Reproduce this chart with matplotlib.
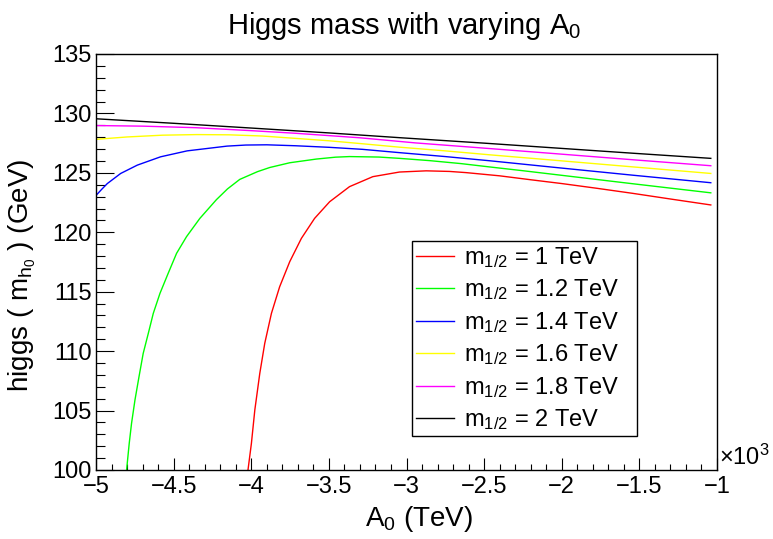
import numpy as np
import matplotlib
matplotlib.use("Agg")
import matplotlib.pyplot as plt
from matplotlib.ticker import MultipleLocator, FuncFormatter

plt.rcParams['font.family'] = ['Liberation Sans', 'DejaVu Sans']
plt.rcParams['mathtext.fontset'] = 'custom'
plt.rcParams['mathtext.rm'] = 'Liberation Sans'
plt.rcParams['mathtext.it'] = 'Liberation Sans'
plt.rcParams['mathtext.bf'] = 'Liberation Sans:bold'

# A0 scans (GeV) and the resulting light higgs mass (GeV), one per m_1/2
a0_m1000 = [-4021, -3999, -3977, -3945, -3913, -3870, -3817, -3752, -3677, -3592,
            -3495, -3367, -3217, -3045, -2873, -2723, -2616, -2400, -2200, -2000,
            -1773, -1545, -1300, -1040]
mh_m1000 = [100.0, 102.24, 105.05, 108.13, 110.66, 113.18, 115.42, 117.53, 119.49, 121.17,
            122.57, 123.84, 124.68, 125.07, 125.17, 125.12, 125.02, 124.75, 124.42, 124.1,
            123.7, 123.28, 122.8, 122.3]

a0_m1200 = [-4803, -4786, -4771, -4749, -4723, -4696, -4663, -4631, -4588, -4535,
            -4481, -4417, -4331, -4224, -4153, -4074, -3960, -3881, -3752, -3581,
            -3457, -3367, -3178, -3045, -2852, -2650, -2466, -2250, -2037, -1540,
            -1040]
mh_m1200 = [100.0, 102.24, 103.93, 105.89, 107.85, 109.81, 111.5, 113.18, 114.86, 116.55,
            118.23, 119.63, 121.17, 122.75, 123.65, 124.45, 125.1, 125.45, 125.85, 126.16,
            126.32, 126.37, 126.33, 126.22, 126.03, 125.78, 125.5, 125.18, 124.85, 124.08,
            123.32]

a0_m1400 = [-5000, -4963, -4927, -4841, -4734, -4584, -4413, -4156, -4035, -3900,
            -3714, -3500, -3285, -3045, -2750, -2466, -2037, -1540, -1040]
mh_m1400 = [123.1, 123.62, 124.1, 124.95, 125.65, 126.35, 126.85, 127.25, 127.34, 127.36,
            127.28, 127.15, 126.98, 126.7, 126.37, 126.02, 125.45, 124.8, 124.17]

a0_m1600 = [-5000, -4800, -4571, -4350, -4143, -3930, -3714, -3500, -3285, -3045,
            -2750, -2466, -2037, -1540, -1040]
mh_m1600 = [127.82, 128.02, 128.17, 128.22, 128.2, 128.1, 127.9, 127.7, 127.45, 127.16,
            126.85, 126.52, 126.05, 125.5, 124.95]

a0_m1800 = [-5000, -4700, -4357, -4000, -3714, -3300, -2942, -2500, -2037, -1540, -1040]
mh_m1800 = [128.98, 128.93, 128.8, 128.55, 128.33, 127.95, 127.52, 127.08, 126.61, 126.1,
            125.6]

a0_m2000 = [-5000, -4500, -4000, -3500, -3045, -2500, -2037, -1540, -1040]
mh_m2000 = [129.55, 129.17, 128.77, 128.36, 127.96, 127.5, 127.09, 126.65, 126.22]

scans = [
    (a0_m1000, mh_m1000, "red", r"m$_{1/2}$ = 1 TeV"),
    (a0_m1200, mh_m1200, "#00ff00", r"m$_{1/2}$ = 1.2 TeV"),
    (a0_m1400, mh_m1400, "blue", r"m$_{1/2}$ = 1.4 TeV"),
    (a0_m1600, mh_m1600, "yellow", r"m$_{1/2}$ = 1.6 TeV"),
    (a0_m1800, mh_m1800, "magenta", r"m$_{1/2}$ = 1.8 TeV"),
    (a0_m2000, mh_m2000, "black", r"m$_{1/2}$ = 2 TeV"),
]

W, H = 773, 539
fig = plt.figure(figsize=(W / 100, H / 100), dpi=100)
ax = fig.add_axes([96 / W, 1 - 470 / H, 621 / W, 416 / H])

for a0, mh, col, lab in scans:
    ax.plot(a0, mh, color=col, lw=1.0, label=lab)

ax.set_xlim(-5000, -1000)
ax.set_ylim(100, 135)

ax.xaxis.set_major_locator(MultipleLocator(500))
ax.xaxis.set_minor_locator(MultipleLocator(100))
ax.yaxis.set_major_locator(MultipleLocator(5))
ax.yaxis.set_minor_locator(MultipleLocator(1))
ax.xaxis.set_major_formatter(FuncFormatter(
    lambda v, p: f"{v / 1000:g}".replace("-", "\u2212")))

ax.tick_params(axis='both', which='both', direction='in', top=False, right=False,
               labelsize=17, width=0.8, colors='black')
ax.tick_params(axis='x', which='major', length=8.6, pad=4)
ax.tick_params(axis='x', which='minor', length=4.3)
ax.tick_params(axis='y', which='major', length=13, pad=3)
ax.tick_params(axis='y', which='minor', length=6.5)
for s in ax.spines.values():
    s.set_linewidth(1.0)

ax.text(1.004, 0.0, "\u00d710$^{3}$", transform=ax.transAxes, ha='left',
        va='bottom', fontsize=17)

fig.text(404 / W, 1 - 34 / H, r"Higgs mass with varying A$_0$", ha='center',
         va='baseline', fontsize=21)
fig.text(419 / W, 1 - 526 / H, r"A$_0$ (TeV)", ha='center', va='baseline',
         fontsize=20)
fig.text(22 / W, 1 - 275 / H,
         r"higgs ( m$_{\mathregular{h}_{\mathregular{0}}}$ ) (GeV)",
         ha='center', va='center', rotation=90, fontsize=20)

leg = ax.legend(loc='upper left', bbox_to_anchor=(412 / W, 1 - 241 / H, 225 / W, 0),
                bbox_transform=fig.transFigure, borderaxespad=0, mode='expand',
                fontsize=17, fancybox=False, framealpha=1, edgecolor='black',
                handlelength=1.6, handletextpad=0.45, labelspacing=0.32,
                borderpad=0.17)
leg.get_frame().set_linewidth(1.0)

fig.savefig("out.png", dpi=100, facecolor='white')
